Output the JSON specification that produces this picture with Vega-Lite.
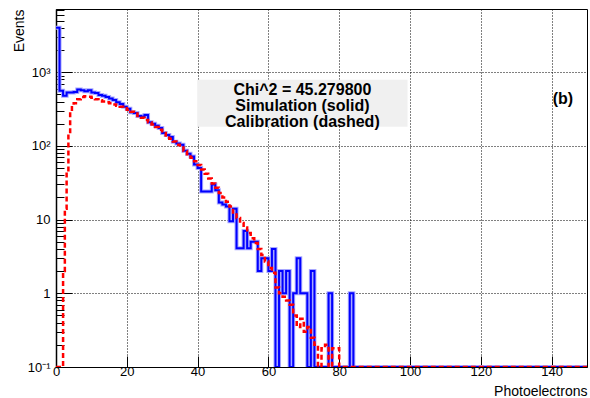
{
  "$schema": "https://vega.github.io/schema/vega-lite/v6.json",
  "width": 531,
  "height": 358,
  "autosize": {"type": "none"},
  "padding": {"left": 56, "top": 9, "right": 3, "bottom": 31},
  "background": "white",
  "config": {
    "view": {"stroke": "black", "strokeWidth": 1},
    "font": "Liberation Sans"
  },
  "datasets": {
    "sim": [{"pe":0,"events":4000},{"pe":1,"events":560},{"pe":2,"events":480},{"pe":3,"events":530},{"pe":4,"events":530},{"pe":5,"events":540},{"pe":6,"events":580},{"pe":7,"events":570},{"pe":8,"events":550},{"pe":9,"events":570},{"pe":10,"events":530},{"pe":11,"events":520},{"pe":12,"events":490},{"pe":13,"events":480},{"pe":14,"events":460},{"pe":15,"events":440},{"pe":16,"events":420},{"pe":17,"events":390},{"pe":18,"events":370},{"pe":19,"events":340},{"pe":20,"events":320},{"pe":21,"events":285},{"pe":22,"events":280},{"pe":23,"events":255},{"pe":24,"events":250},{"pe":25,"events":262},{"pe":26,"events":210},{"pe":27,"events":200},{"pe":28,"events":188},{"pe":29,"events":175},{"pe":30,"events":150},{"pe":31,"events":140},{"pe":32,"events":132},{"pe":33,"events":114},{"pe":34,"events":108},{"pe":35,"events":104},{"pe":36,"events":86},{"pe":37,"events":78},{"pe":38,"events":72},{"pe":39,"events":56},{"pe":40,"events":50},{"pe":41,"events":24},{"pe":42,"events":24},{"pe":43,"events":24},{"pe":44,"events":30},{"pe":45,"events":25},{"pe":46,"events":17},{"pe":47,"events":16},{"pe":48,"events":15},{"pe":49,"events":9.5},{"pe":50,"events":14},{"pe":51,"events":4.1},{"pe":52,"events":4.1},{"pe":53,"events":7},{"pe":54,"events":4.1},{"pe":55,"events":5},{"pe":56,"events":5},{"pe":57,"events":2},{"pe":58,"events":3},{"pe":59,"events":3},{"pe":60,"events":2},{"pe":61,"events":4},{"pe":62,"events":0.1},{"pe":63,"events":2},{"pe":64,"events":1},{"pe":65,"events":2},{"pe":66,"events":0.1},{"pe":67,"events":1},{"pe":68,"events":3},{"pe":69,"events":1},{"pe":70,"events":1},{"pe":71,"events":0.1},{"pe":72,"events":2},{"pe":73,"events":0.1},{"pe":77,"events":1},{"pe":78,"events":0.1},{"pe":83,"events":1},{"pe":84,"events":0.1},{"pe":150,"events":0.1}],
    "cal": [{"pe":0,"events":0.1},{"pe":2,"events":2},{"pe":2.5,"events":14},{"pe":3,"events":45},{"pe":3.5,"events":145},{"pe":4,"events":290},{"pe":4.5,"events":350},{"pe":5,"events":380},{"pe":6,"events":430},{"pe":7,"events":460},{"pe":8,"events":470},{"pe":9,"events":465},{"pe":10,"events":450},{"pe":11,"events":430},{"pe":12,"events":415},{"pe":13,"events":400},{"pe":14,"events":390},{"pe":15,"events":380},{"pe":16,"events":365},{"pe":17,"events":350},{"pe":18,"events":340},{"pe":19,"events":325},{"pe":20,"events":310},{"pe":21,"events":290},{"pe":22,"events":275},{"pe":23,"events":255},{"pe":24,"events":240},{"pe":25,"events":225},{"pe":26,"events":210},{"pe":27,"events":195},{"pe":28,"events":180},{"pe":29,"events":165},{"pe":30,"events":150},{"pe":31,"events":138},{"pe":32,"events":125},{"pe":33,"events":115},{"pe":34,"events":104},{"pe":35,"events":95},{"pe":36,"events":85},{"pe":37,"events":77},{"pe":38,"events":69},{"pe":39,"events":62},{"pe":40,"events":55},{"pe":41,"events":48},{"pe":42,"events":42},{"pe":43,"events":36},{"pe":44,"events":31},{"pe":45,"events":27},{"pe":46,"events":23},{"pe":47,"events":20},{"pe":48,"events":17.5},{"pe":49,"events":15},{"pe":50,"events":12.5},{"pe":51,"events":10.5},{"pe":52,"events":9},{"pe":53,"events":7.8},{"pe":54,"events":6.6},{"pe":55,"events":5.6},{"pe":56,"events":4.8},{"pe":57,"events":4},{"pe":58,"events":3.3},{"pe":59,"events":2.7},{"pe":60,"events":2.2},{"pe":61,"events":1.9},{"pe":62,"events":1.2},{"pe":63,"events":1.0},{"pe":64,"events":0.9},{"pe":65,"events":0.8},{"pe":66,"events":0.7},{"pe":67,"events":0.5},{"pe":68,"events":0.35},{"pe":69,"events":0.45},{"pe":70,"events":0.3},{"pe":71,"events":0.35},{"pe":72,"events":0.25},{"pe":73,"events":0.2},{"pe":74,"events":0.1},{"pe":75,"events":0.18},{"pe":76,"events":0.2},{"pe":77,"events":0.1},{"pe":78,"events":0.18},{"pe":79,"events":0.18},{"pe":80,"events":0.1},{"pe":150,"events":0.1}]
  },
  "layer": [
    {
      "data": {"name": "sim"},
      "mark": {"type": "line", "interpolate": "step-after", "stroke": "#a8a8ff", "strokeWidth": 4, "clip": true},
      "encoding": {
        "x": {
          "field": "pe", "type": "quantitative",
          "scale": {"domain": [0, 150], "nice": false, "zero": false},
          "axis": {
            "title": "Photoelectrons",
            "titleFont": "Liberation Sans", "titleFontSize": 14, "titleFontWeight": "normal", "titleColor": "black",
            "titleAnchor": "end", "titleAlign": "right", "titleBaseline": "alphabetic",
            "titleX": 531, "titleY": 28,
            "values": [0,5,10,15,20,25,30,35,40,45,50,55,60,65,70,75,80,85,90,95,100,105,110,115,120,125,130,135,140,145,150],
            "labelExpr": "(datum.value % 20 === 0 && datum.value < 150) ? datum.label : ''",
            "labelFont": "Liberation Sans", "labelFontSize": 13, "labelColor": "black",
            "labelFlush": false, "labelOverlap": false, "labelPadding": 9, "labelBaseline": "top",
            "tickColor": "black", "tickWidth": 1,
            "tickSize": {"condition": {"test": "datum.value % 20 === 0", "value": -11}, "value": -5.5},
            "domainColor": "black",
            "grid": true, "gridColor": "black", "gridDash": [1, 2], "gridWidth": 1,
            "gridOpacity": {"condition": {"test": "datum.value % 20 === 0", "value": 1}, "value": 0}
          }
        },
        "y": {
          "field": "events", "type": "quantitative",
          "scale": {"type": "log", "domain": [0.1, 7200], "nice": false},
          "axis": {
            "title": "Events",
            "titleFont": "Liberation Sans", "titleFontSize": 14, "titleFontWeight": "normal", "titleColor": "black",
            "titleAnchor": "end", "titleAlign": "right", "titleBaseline": "middle",
            "titleX": -37, "titleY": 0,
            "values": [0.1,0.2,0.3,0.4,0.5,0.6,0.7,0.8,0.9,1,2,3,4,5,6,7,8,9,10,20,30,40,50,60,70,80,90,100,200,300,400,500,600,700,800,900,1000,2000,3000,4000,5000,6000,7000],
            "labelExpr": "(datum.value > 0.09 && datum.value < 0.11) ? '10⁻¹' : datum.value === 1 ? '1' : datum.value === 10 ? '10' : datum.value === 100 ? '10²' : datum.value === 1000 ? '10³' : ''",
            "labelFont": "Liberation Sans", "labelFontSize": 13, "labelColor": "black",
            "labelFlush": false, "labelOverlap": false, "labelPadding": 22,
            "tickColor": "black", "tickWidth": 1,
            "tickSize": {"condition": {"test": "abs(log(datum.value)/LN10 - round(log(datum.value)/LN10)) < 0.001", "value": -16}, "value": -8},
            "domainColor": "black", "domainWidth": 1.5,
            "grid": true, "gridColor": "black", "gridDash": [1, 2], "gridWidth": 1,
            "gridOpacity": {"condition": {"test": "abs(log(datum.value)/LN10 - round(log(datum.value)/LN10)) < 0.001", "value": 1}, "value": 0}
          }
        }
      }
    },
    {
      "data": {"name": "sim"},
      "mark": {"type": "line", "interpolate": "step-after", "stroke": "#0000ff", "strokeWidth": 2, "clip": true},
      "encoding": {
        "x": {"field": "pe", "type": "quantitative"},
        "y": {"field": "events", "type": "quantitative"}
      }
    },
    {
      "data": {"name": "cal"},
      "mark": {"type": "line", "interpolate": "step-after", "stroke": "#ff0000", "strokeWidth": 2.5, "strokeDash": [5, 3], "clip": true},
      "encoding": {
        "x": {"field": "pe", "type": "quantitative"},
        "y": {"field": "events", "type": "quantitative"}
      }
    },
    {
      "data": {"values": [{}]},
      "mark": {"type": "rect", "fill": "#f0f0f0"},
      "encoding": {
        "x": {"datum": 39.9, "type": "quantitative"},
        "x2": {"datum": 99.3},
        "y": {"datum": 787, "type": "quantitative"},
        "y2": {"datum": 182.5}
      }
    },
    {
      "data": {"values": [{}]},
      "mark": {"type": "text", "text": ["Chi^2 = 45.279800", "Simulation (solid)", "Calibration (dashed)"], "font": "Liberation Sans", "fontSize": 16, "fontWeight": "bold", "align": "center", "baseline": "alphabetic", "lineHeight": 16, "color": "black"},
      "encoding": {
        "x": {"datum": 69.6, "type": "quantitative"},
        "y": {"datum": 490, "type": "quantitative"}
      }
    },
    {
      "data": {"values": [{}]},
      "mark": {"type": "text", "text": "(b)", "font": "Liberation Sans", "fontSize": 16, "fontWeight": "bold", "align": "center", "baseline": "alphabetic", "color": "black"},
      "encoding": {
        "x": {"datum": 143.2, "type": "quantitative"},
        "y": {"datum": 372, "type": "quantitative"}
      }
    }
  ]
}
